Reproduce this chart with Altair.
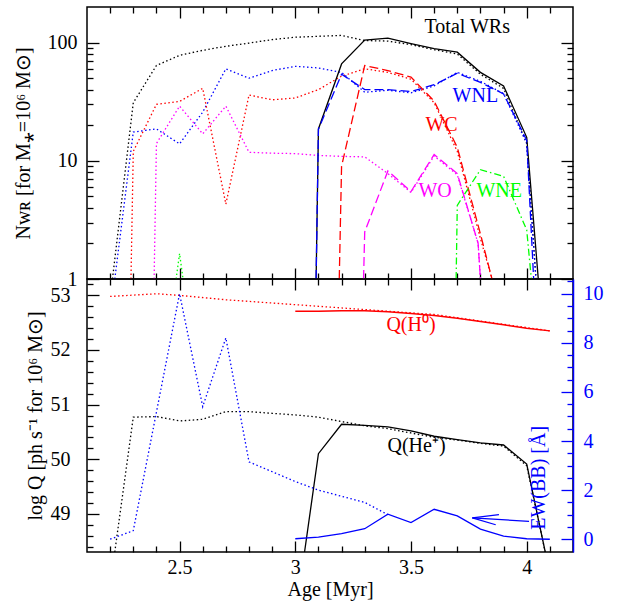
import altair as alt
import pandas as pd

FONT = "Liberation Serif"

# ---------------- top panel: number of WR stars ----------------
# model A (dotted lines)
TOT_A_AGE = [2.21, 2.3, 2.4, 2.5, 2.6, 2.7, 2.8, 2.9, 3.0, 3.1, 3.2, 3.3, 3.4, 3.5, 3.6, 3.7, 3.8, 3.9, 4.0, 4.04]
TOT_A_N = [1, 31, 64, 78, 86, 93, 99, 106, 111, 113, 115, 104, 103, 96, 87, 80, 54, 41, 14, 1]
WNL_A_AGE = [2.22, 2.3, 2.4, 2.5, 2.6, 2.7, 2.8, 2.9, 3.0, 3.1, 3.2, 3.3, 3.4, 3.5, 3.6, 3.7, 3.8, 3.9, 4.0, 4.04]
WNL_A_N = [1, 17.5, 18.6, 13.9, 25.8, 60, 50, 58, 63, 61, 56, 38, 39.5, 37.6, 43, 56, 47, 37, 14, 1]
WC_A_AGE = [2.29, 2.3, 2.4, 2.5, 2.6, 2.7, 2.8, 2.9, 3.0, 3.1, 3.2, 3.3, 3.4, 3.5, 3.6, 3.7, 3.8, 3.85]
WC_A_N = [1, 12, 30, 31.8, 41, 4.3, 36, 32.8, 34, 40, 52, 60, 56, 49, 31, 12, 2.2, 1]
WO_A_AGE = [2.39, 2.4, 2.5, 2.6, 2.7, 2.8, 2.9, 3.0, 3.1, 3.2, 3.3, 3.4, 3.5, 3.6, 3.7, 3.79, 3.8]
WO_A_N = [1, 14, 29, 16.9, 29, 11.8, 11.6, 11.5, 11.1, 10.9, 10.8, 7.8, 5.4, 11, 7.6, 2, 1]
WNE_A_AGE = [2.485, 2.5, 2.515]
WNE_A_N = [1, 1.64, 1]

# model B (solid / dashed lines)
TOT_B_AGE = [3.09, 3.1, 3.2, 3.3, 3.4, 3.5, 3.6, 3.7, 3.8, 3.9, 4.0, 4.05]
TOT_B_N = [1, 18.6, 66, 105, 109, 98, 89, 83, 56, 43, 15.8, 1]
WNL_B_AGE = [3.09, 3.1, 3.2, 3.3, 3.4, 3.5, 3.6, 3.7, 3.8, 3.9, 4.0, 4.03]
WNL_B_N = [1, 18.5, 54, 40, 40, 38.6, 44, 55, 46, 36.8, 14.9, 1]
WC_B_AGE = [3.19, 3.2, 3.3, 3.4, 3.5, 3.6, 3.7, 3.8, 3.85]
WC_B_N = [1, 9, 64, 58, 51, 32, 13, 2.4, 1]
WO_B_AGE = [3.295, 3.3, 3.4, 3.5, 3.6, 3.7, 3.79, 3.8]
WO_B_N = [1, 2.5, 8.2, 5.5, 11.3, 7.8, 2, 1]
WNE_B_AGE = [3.695, 3.7, 3.8, 3.9, 4.0, 4.02]
WNE_B_N = [1, 4.2, 8.4, 7.4, 2.6, 1]

TOP_LAB_TEXT = ["Total WRs", "WNL", "WC", "WO", "WNE"]
TOP_LAB_AGE = [3.743, 3.778, 3.632, 3.604, 3.881]
TOP_LAB_N = [135, 35, 19.9, 5.5, 5.5]
TOP_LAB_COLOR = ["black", "#0000ff", "#ff0000", "#ff00ff", "#00ff00"]

# ---------------- bottom panel: ionising photons & EW ----------------
QH0_A_AGE = [2.2, 2.4, 2.5, 2.7, 3.0, 3.3, 3.6, 3.9, 4.1]
QH0_A = [52.98, 53.03, 53.0, 52.92, 52.83, 52.74, 52.65, 52.47, 52.35]
QH0_B_AGE = [3.0, 3.1, 3.2, 3.3, 3.4, 3.5, 3.6, 3.7, 3.8, 3.9, 4.0, 4.1]
QH0_B = [52.71, 52.71, 52.72, 52.72, 52.70, 52.67, 52.63, 52.58, 52.52, 52.46, 52.40, 52.35]
QHE_A_AGE = [2.22, 2.3, 2.4, 2.5, 2.6, 2.7, 2.8, 2.9, 3.0, 3.1, 3.2, 3.3, 3.4, 3.5, 3.6, 3.7, 3.8, 3.9, 4.0, 4.08]
QHE_A = [48.3, 50.77, 50.78, 50.70, 50.73, 50.87, 50.87, 50.84, 50.81, 50.77, 50.69, 50.61, 50.56, 50.48, 50.40, 50.35, 50.29, 50.24, 49.88, 48.3]
QHE_B_AGE = [3.04, 3.1, 3.2, 3.3, 3.4, 3.5, 3.6, 3.7, 3.8, 3.9, 4.0, 4.08]
QHE_B = [48.3, 50.1, 50.64, 50.62, 50.59, 50.52, 50.42, 50.36, 50.30, 50.26, 49.91, 48.3]
EW_A_AGE = [2.2, 2.3, 2.5, 2.6, 2.7, 2.8, 2.9, 3.0, 3.1, 3.2, 3.3, 3.4]
EW_A = [0.0, 0.35, 10.0, 5.4, 8.2, 3.15, 2.75, 2.35, 2.0, 1.75, 1.5, 1.0]
EW_B_AGE = [3.0, 3.1, 3.2, 3.3, 3.4, 3.5, 3.6, 3.7, 3.8, 3.9, 4.0, 4.1]
EW_B = [0.02, 0.09, 0.23, 0.43, 1.02, 0.68, 1.22, 0.95, 0.41, 0.13, 0.02, 0.0]

Q_LAB_TEXT = ["Q(H\u2070)", "Q(He\u207a)"]
Q_LAB_AGE = [3.50, 3.524]
Q_LAB_Q = [52.45, 50.24]
Q_LAB_COLOR = ["#ff0000", "black"]

EW_LAB_TEXT = ["EW(BB) [\u00c5]"]
EW_LAB_AGE = [4.052]
EW_LAB_EW = [2.5]

# arrow annotation (segments in age / EW units)
ARROW_X = [4.01, 3.765, 3.765]
ARROW_Y = [0.73, 0.87, 0.87]
ARROW_X2 = [3.765, 3.88, 3.866]
ARROW_Y2 = [0.87, 1.0, 0.59]

# ---------------- scales ----------------
X_DOM = [2.1, 4.2]
N_DOM = [1, 200]
Q_DOM = [48.3, 53.3]
EW_DOM = [-0.52, 10.6]

xs = alt.Scale(domain=X_DOM, nice=False, zero=False)
ns = alt.Scale(type="log", domain=N_DOM, nice=False)
qs = alt.Scale(domain=Q_DOM, nice=False, zero=False)
es = alt.Scale(domain=EW_DOM, nice=False, zero=False)

DOT = [1.5, 2.5]
DASH = [9, 4]
DASHDOT = [7, 3, 1.5, 3]


def sdf(ages, vals):
    return pd.DataFrame({"age": ages, "v": vals})


def line(ages, vals, color, yscale, dash=None, width=1.3):
    kw = dict(color=color, strokeWidth=width, clip=True)
    if dash is not None:
        kw["strokeDash"] = dash
    return alt.Chart(sdf(ages, vals)).mark_line(**kw).encode(
        x=alt.X("age:Q", scale=xs, axis=None),
        y=alt.Y("v:Q", scale=yscale, axis=None),
    )


def carrier(yscale, x_axis=None, y_axis=None):
    return alt.Chart(sdf(X_DOM, [yscale.domain[0], yscale.domain[1]])).mark_point(opacity=0, size=1).encode(
        x=alt.X("age:Q", scale=xs, axis=x_axis),
        y=alt.Y("v:Q", scale=yscale, axis=y_axis),
    )


def tick_axis(orient, values, size, color="black"):
    return alt.Axis(orient=orient, values=values, tickSize=size, offset=-size, labels=False,
                    domain=False, grid=False, title=None, ticks=True, tickColor=color, tickWidth=1.3,
                    minExtent=0)


def label_axis(orient, values, title, pad, fmt, color="black", title_pad=10, domain=False):
    return alt.Axis(orient=orient, values=values, ticks=False, domain=domain, grid=False,
                    labelPadding=pad, title=title, titlePadding=title_pad, format=fmt,
                    labelColor=color, titleColor=color, domainColor=color, domainWidth=1.5,
                    minExtent=0)


X_MAJOR = [2.5, 3.0, 3.5, 4.0]
X_MINOR = [round(2.2 + 0.1 * i, 1) for i in range(20) if round(2.2 + 0.1 * i, 1) not in X_MAJOR]
N_MAJOR = [1, 10, 100]
N_MINOR = [m * d for d in (1, 10) for m in range(2, 10)]
Q_MAJOR = [49, 50, 51, 52, 53]
Q_MINOR = [round(48.4 + 0.2 * i, 1) for i in range(25) if round(48.4 + 0.2 * i, 1) not in Q_MAJOR]
E_MAJOR = [0, 2, 4, 6, 8, 10]
E_MINOR = [0.5 * i for i in range(0, 22) if (0.5 * i) not in E_MAJOR]

# ---------------- top panel ----------------
top_lines = [
    line(TOT_A_AGE, TOT_A_N, "black", ns, DOT),
    line(WNL_A_AGE, WNL_A_N, "#0000ff", ns, DOT),
    line(WC_A_AGE, WC_A_N, "#ff0000", ns, DOT),
    line(WO_A_AGE, WO_A_N, "#ff00ff", ns, DOT),
    line(WNE_A_AGE, WNE_A_N, "#00ff00", ns, DOT),
    line(TOT_B_AGE, TOT_B_N, "black", ns),
    line(WNL_B_AGE, WNL_B_N, "#0000ff", ns, DASH),
    line(WC_B_AGE, WC_B_N, "#ff0000", ns, DASH),
    line(WO_B_AGE, WO_B_N, "#ff00ff", ns, DASH),
    line(WNE_B_AGE, WNE_B_N, "#00ff00", ns, DASHDOT),
]
top_text = alt.Chart(pd.DataFrame({"t": TOP_LAB_TEXT, "age": TOP_LAB_AGE, "v": TOP_LAB_N,
                                   "c": TOP_LAB_COLOR})).mark_text(
    font=FONT, fontSize=20, align="center", baseline="middle").encode(
    x=alt.X("age:Q", scale=xs, axis=None),
    y=alt.Y("v:Q", scale=ns, axis=None),
    text="t:N",
    color=alt.Color("c:N", scale=None),
)
top_axes = [
    carrier(ns, x_axis=tick_axis("bottom", X_MAJOR, 11)),
    carrier(ns, x_axis=tick_axis("bottom", X_MINOR, 6)),
    carrier(ns, x_axis=tick_axis("top", X_MAJOR, 11)),
    carrier(ns, x_axis=tick_axis("top", X_MINOR, 6)),
    carrier(ns, y_axis=label_axis("left", N_MAJOR, "N\u1d21\u0280 [for M\u204e=10\u2076 M\u2299]", 10, "d",
                                  title_pad=14)),
    carrier(ns, y_axis=tick_axis("left", N_MAJOR, 12)),
    carrier(ns, y_axis=tick_axis("left", N_MINOR, 6)),
    carrier(ns, y_axis=tick_axis("right", N_MAJOR, 12)),
    carrier(ns, y_axis=tick_axis("right", N_MINOR, 6)),
]
top = alt.layer(*top_lines, top_text, *top_axes).resolve_axis(
    x="independent", y="independent").properties(width=486, height=272)

# ---------------- bottom panel ----------------
BLUE = "#0000ff"
bot_lines = [
    line(QH0_A_AGE, QH0_A, "#ff0000", qs, DOT),
    line(QH0_B_AGE, QH0_B, "#ff0000", qs, None, 1.5),
    line(QHE_A_AGE, QHE_A, "black", qs, DOT),
    line(QHE_B_AGE, QHE_B, "black", qs),
    line(EW_A_AGE, EW_A, BLUE, es, DOT),
    line(EW_B_AGE, EW_B, BLUE, es),
]
q_text = alt.Chart(pd.DataFrame({"t": Q_LAB_TEXT, "age": Q_LAB_AGE, "v": Q_LAB_Q,
                                 "c": Q_LAB_COLOR})).mark_text(
    font=FONT, fontSize=20, align="center", baseline="middle").encode(
    x=alt.X("age:Q", scale=xs, axis=None),
    y=alt.Y("v:Q", scale=qs, axis=None),
    text="t:N",
    color=alt.Color("c:N", scale=None),
)
ew_text = alt.Chart(pd.DataFrame({"t": EW_LAB_TEXT, "age": EW_LAB_AGE, "v": EW_LAB_EW})).mark_text(
    font=FONT, fontSize=20, align="center", baseline="middle", angle=270, color=BLUE).encode(
    x=alt.X("age:Q", scale=xs, axis=None),
    y=alt.Y("v:Q", scale=es, axis=None),
    text="t:N",
)
arrow = alt.Chart(pd.DataFrame({"x": ARROW_X, "y": ARROW_Y, "x2": ARROW_X2, "y2": ARROW_Y2})).mark_rule(
    color=BLUE, strokeWidth=1.3).encode(
    x=alt.X("x:Q", scale=xs, axis=None),
    y=alt.Y("y:Q", scale=es, axis=None),
    x2="x2:Q",
    y2="y2:Q",
)
bot_axes = [
    carrier(qs, x_axis=label_axis("bottom", X_MAJOR, "Age [Myr]", 5, "~g", title_pad=2)),
    carrier(qs, x_axis=tick_axis("bottom", X_MAJOR, 11)),
    carrier(qs, x_axis=tick_axis("bottom", X_MINOR, 6)),
    carrier(qs, x_axis=tick_axis("top", X_MAJOR, 11)),
    carrier(qs, x_axis=tick_axis("top", X_MINOR, 6)),
    carrier(qs, y_axis=label_axis("left", Q_MAJOR, "log Q [ph s\u207b\u00b9 for 10\u2076 M\u2299]", 17, "d",
                                  title_pad=5)),
    carrier(qs, y_axis=tick_axis("left", Q_MAJOR, 12)),
    carrier(qs, y_axis=tick_axis("left", Q_MINOR, 6)),
    carrier(es, y_axis=label_axis("right", E_MAJOR, None, 10, "d", color=BLUE, domain=True)),
    carrier(es, y_axis=tick_axis("right", E_MAJOR, 12, BLUE)),
    carrier(es, y_axis=tick_axis("right", E_MINOR, 6, BLUE)),
]
bottom = alt.layer(*bot_lines, q_text, ew_text, arrow, *bot_axes).resolve_scale(
    y="independent").resolve_axis(x="independent", y="independent").properties(width=486, height=273)

chart = alt.vconcat(top, bottom, spacing=0, bounds="flush").properties(
    padding={"left": 12, "top": 5, "right": 5, "bottom": 5}
).configure_view(stroke="black", strokeWidth=1.5).configure_axis(
    labelFont=FONT, titleFont=FONT, labelFontSize=20, titleFontSize=20,
    titleFontWeight="normal", labelColor="black", titleColor="black"
)

chart.save("out.html", embed_options={"renderer": "svg", "actions": False})
